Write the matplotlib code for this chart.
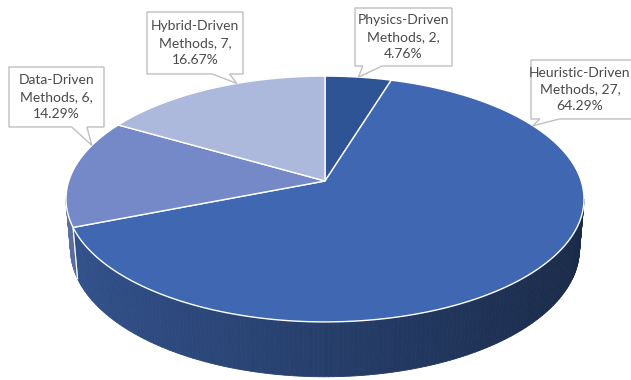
import numpy as np
import matplotlib.pyplot as plt
from matplotlib.patches import Polygon
from matplotlib.colors import to_rgb

# Survey of method families
categories = ['Physics-Driven', 'Heuristic-Driven', 'Data-Driven', 'Hybrid-Driven']
counts = [2, 27, 6, 7]
top_colors = ['#2F5496', '#4068B2', '#7589C8', '#ADB9DC']

# 3D pie projection (pixel space), radius-1 disc seen in perspective
CX, CY = 325, 181
SCALE = 256.2
ELEV = np.radians(28.0)
DIST = 6.03
THICK = 0.222


def project(theta, z=0.0):
    x, y = np.cos(theta), np.sin(theta)
    w = DIST + y * np.cos(ELEV) - z * np.sin(ELEV)
    u = CX + SCALE * x * DIST / w
    v = CY - SCALE * (y * np.sin(ELEV) + z * np.cos(ELEV)) * DIST / w
    return u, v


def shade(color, k):
    r, g, b = to_rgb(color)
    return (r * k, g * k, b * k)


fig = plt.figure(figsize=(6.31, 3.80), dpi=100)
ax = fig.add_axes([0, 0, 1, 1])
ax.set_xlim(0, 631)
ax.set_ylim(380, 0)
ax.axis('off')

total = sum(counts)
fracs = np.array(counts) / total
edges = 90 - 360 * np.concatenate([[0], np.cumsum(fracs)])  # clockwise from 12 o'clock
edges = np.radians(edges)

# visible front wall runs between the two silhouette points of the rim
sil = np.arcsin(-np.cos(ELEV) / DIST)
vis_lo = np.pi - sil
vis_hi = 2 * np.pi + sil

for i, col in enumerate(top_colors):
    a, b = edges[i + 1], edges[i]  # a < b
    for off in (0, 2 * np.pi, -2 * np.pi):
        lo = max(a + off, vis_lo)
        hi = min(b + off, vis_hi)
        if hi <= lo:
            continue
        ts = np.linspace(lo, hi, max(int((hi - lo) * 60), 2))
        for t0, t1 in zip(ts[:-1], ts[1:]):
            tm = 0.5 * (t0 + t1)
            k = 0.6 - 0.2 * np.cos(tm)
            c = shade(col, k)
            pts = [project(t0), project(t1), project(t1, -THICK), project(t0, -THICK)]
            ax.add_patch(Polygon(pts, closed=True, facecolor=c, edgecolor=c, lw=0.6))
        # seam where a slice edge meets the wall
        for t in (lo, hi):
            if t not in (vis_lo, vis_hi):
                u0, v0 = project(t)
                u1, v1 = project(t, -THICK)
                ax.plot([u0, u1], [v0, v1], color='white', lw=0.8, alpha=0.8)

# top face slices
for i, col in enumerate(top_colors):
    ts = np.linspace(edges[i], edges[i + 1], 200)
    u, v = project(ts)
    pts = [(CX, CY)] + list(zip(u, v))
    ax.add_patch(Polygon(pts, closed=True, facecolor=col, edgecolor='white', lw=1.0,
                         joinstyle='round'))

# callout labels: box (left, top, right, bottom), tail base fractions, rim angle of the tip
boxes = [(355, 8, 452, 66), (531, 60, 640, 119), (9, 67, 104, 127), (147, 12, 243, 74)]
tail_base = [(0.08, 0.28), (0.08, 0.26), (0.66, 0.82), (0.68, 0.86)]
tip_angle = [81.4, 29.5, 162.0, 113.0]

for i, cat in enumerate(categories):
    l, t, r, bt = boxes[i]
    f1, f2 = tail_base[i]
    tip = project(np.radians(tip_angle[i]))
    x1 = l + f1 * (r - l)
    x2 = l + f2 * (r - l)
    pts = [(l, t), (r, t), (r, bt), (x2, bt), tip, (x1, bt), (l, bt)]
    ax.add_patch(Polygon(pts, closed=True, facecolor='white', edgecolor='#BFBFBF', lw=1.0,
                         zorder=5))
    pct = 100 * counts[i] / total
    txt = f'{cat}\nMethods, {counts[i]},\n{pct:.2f}%'
    tx = (l + min(r, 629)) / 2
    ax.text(tx, (t + bt) / 2, txt, ha='center', va='center', fontsize=10,
            family='Lato', color='#4a4a4a', linespacing=1.45, zorder=6)

fig.savefig('out.png', dpi=100)
